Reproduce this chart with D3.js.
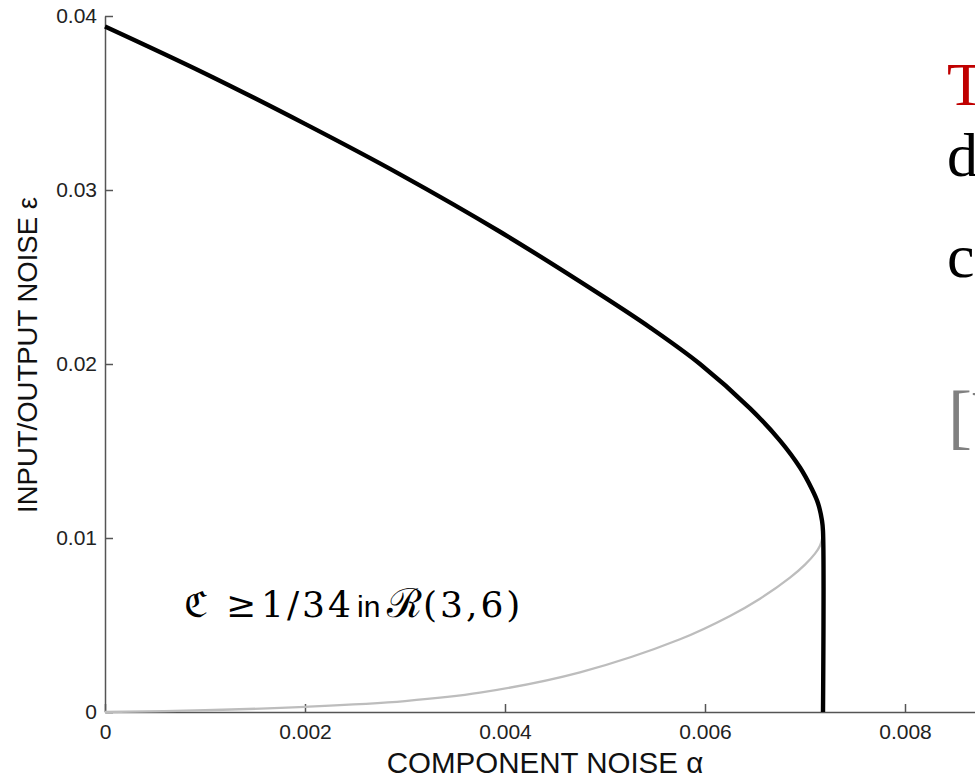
<html>
<head>
<title></title>
<script type="text/javascript" src="https://d3js.org/d3.v7.min.js"></script>
<style>
	body { margin: 0; background: #fff; overflow: hidden; }
	svg { display: block; }
	.tick text { font-family: "Liberation Sans", Arial, sans-serif; font-size: 21px; fill: #222; }
	.axis path, .axis line { stroke: #555; stroke-width: 1.5; }
</style>
</head>
<body>
<div></div>
<script>
	// upper branch (black), ends with the vertical drop
	var upperAlpha = [0, 0.001, 0.002, 0.00295, 0.00395, 0.00495, 0.00545, 0.00595, 0.00645, 0.00675, 0.00695, 0.00707, 0.00713, 0.00717, 0.00718, 0.00718];
	var upperEps   = [0.0394, 0.0367, 0.0338, 0.0309, 0.0276, 0.0240, 0.0221, 0.0200, 0.01745, 0.0156, 0.01405, 0.0128, 0.0120, 0.0110, 0.0104, 0];

	// lower branch (gray)
	var lowerAlpha = [0, 0.001, 0.002, 0.003, 0.00375, 0.00475, 0.00575, 0.00625, 0.00655, 0.00685, 0.0070, 0.0071, 0.00715, 0.00718];
	var lowerEps   = [0, 0.0001, 0.0003, 0.00063, 0.00111, 0.00228, 0.00418, 0.00552, 0.00651, 0.00772, 0.00847, 0.0091, 0.00955, 0.0102];

	var xTicks = [0, 0.002, 0.004, 0.006, 0.008];
	var yTicks = [0, 0.01, 0.02, 0.03, 0.04];
	var xTickLabels = ["0", "0.002", "0.004", "0.006", "0.008"];
	var yTickLabels = ["0", "0.01", "0.02", "0.03", "0.04"];

	var width = 975, height = 779;

	var svg = d3.select("div").append("svg")
		.attr("width", width)
		.attr("height", height);

	var x = d3.scaleLinear().domain([0, 0.009]).range([105, 1005]);
	var y = d3.scaleLinear().domain([0, 0.04]).range([712, 16]);

	//axes, ticks pointing inward
	svg.append("g").attr("class", "axis")
		.attr("transform", "translate(0,712)")
		.call(d3.axisBottom(x).tickValues(xTicks)
			.tickFormat(function(d, i){ return xTickLabels[i]; })
			.tickSizeInner(-8).tickSizeOuter(0).tickPadding(12));

	svg.append("g").attr("class", "axis")
		.attr("transform", "translate(105,0)")
		.call(d3.axisLeft(y).tickValues(yTicks)
			.tickFormat(function(d, i){ return yTickLabels[i]; })
			.tickSizeInner(-8).tickSizeOuter(0).tickPadding(8));

	var line = d3.line()
		.x(function(d){ return x(d[0]); })
		.y(function(d){ return y(d[1]); })
		.curve(d3.curveCatmullRom.alpha(0.5));

	svg.append("path")
		.datum(d3.zip(lowerAlpha, lowerEps))
		.attr("d", line)
		.attr("fill", "none")
		.attr("stroke", "#bdbdbd")
		.attr("stroke-width", 2.3);

	svg.append("path")
		.datum(d3.zip(upperAlpha, upperEps))
		.attr("d", line)
		.attr("fill", "none")
		.attr("stroke", "#000")
		.attr("stroke-width", 4.4);

	//axis titles
	svg.append("text")
		.text("COMPONENT NOISE \u03b1")
		.attr("x", 545).attr("y", 773)
		.attr("text-anchor", "middle")
		.style("font-family", "'Liberation Sans', Arial, sans-serif")
		.style("font-size", "29.5px")
		.style("fill", "#111");

	svg.append("text")
		.text("INPUT/OUTPUT NOISE \u03b5")
		.attr("transform", "translate(37,355) rotate(-90)")
		.attr("text-anchor", "middle")
		.style("font-family", "'Liberation Sans', Arial, sans-serif")
		.style("font-size", "27.5px")
		.style("fill", "#111");

	//annotation
	var note = svg.append("text").attr("y", 617)
		.style("font-family", "'DejaVu Serif', serif")
		.style("font-size", "36px")
		.style("fill", "#000");
	note.append("tspan").attr("x", 184).text("\u212d");
	note.append("tspan").attr("x", 226).text("\u2265");
	note.append("tspan").attr("x", 261).style("letter-spacing", "3px").text("1/34");
	note.append("tspan").attr("x", 357)
		.style("font-family", "'Liberation Sans', Arial, sans-serif")
		.style("font-size", "30px").text("in");
	note.append("tspan").attr("x", 387).style("font-size", "40px").text("\u211b");
	note.append("tspan").attr("x", 423).style("letter-spacing", "3px").text("(3,6)");

	//slide text cut off at the right edge
	var side = svg.append("g")
		.style("font-family", "'Liberation Serif', 'DejaVu Serif', serif")
		.style("font-size", "62px");
	side.append("text").attr("x", 947).attr("y", 105).style("fill", "#c00000").text("T");
	side.append("text").attr("x", 947).attr("y", 176).style("fill", "#000").text("d");
	side.append("text").attr("x", 947).attr("y", 277).style("fill", "#000").text("c");
	side.append("text").attr("x", 948).attr("y", 440).style("fill", "#808080")
		.style("font-size", "72px").text("[V");
</script>
</body>
</html>
